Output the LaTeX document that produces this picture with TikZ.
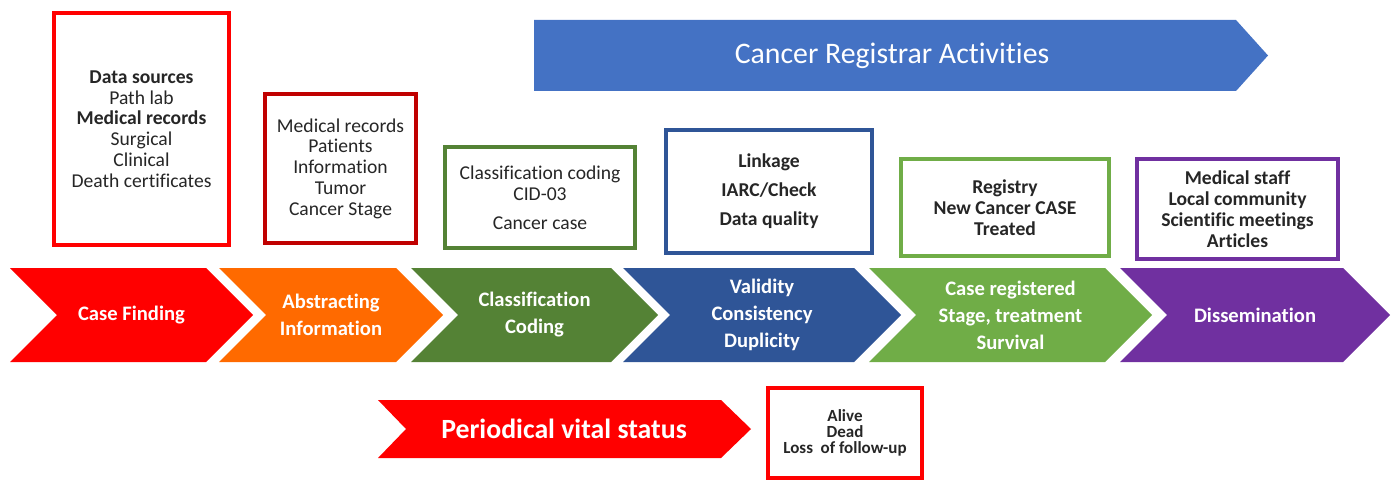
\documentclass[tikz,border=0pt]{standalone}
\usepackage{fontspec}
\setmainfont{Carlito}[Ligatures={NoCommon,NoContextual},Contextuals=NoAlternate]
\usepackage{xcolor}
\usepackage{tikz}

\definecolor{regred}{HTML}{FF0000}
\definecolor{regdarkred}{HTML}{C00000}
\definecolor{regorange}{HTML}{FF6A00}
\definecolor{reggreen}{HTML}{548235}
\definecolor{regblue}{HTML}{2F5597}
\definecolor{reglight}{HTML}{70AD47}
\definecolor{regpurple}{HTML}{7030A0}
\definecolor{regbanner}{HTML}{4472C4}

\begin{document}
\begin{tikzpicture}[x=0.5pt,y=-0.5pt,
		infobox/.style={draw,line width=2pt,fill=white,align=center,inner sep=0pt,
			text=black!85,font=\fontsize{9.8}{10.4}\selectfont},
		boldbox/.style={infobox,font=\bfseries\fontsize{9.8}{10.4}\selectfont},
		chevtext/.style={text=white,align=center,font=\bfseries\fontsize{10.3}{13.5}\selectfont}]
	\useasboundingbox (0,0) rectangle (1395,481);
	% top banner
	\fill[regbanner] (534,20) -- (1236,20) -- (1268,55.5) -- (1236,91) -- (534,91) -- cycle;
	\node[text=white,font=\fontsize{14.9}{18}\selectfont] (activ) at (892,55.5) {Cancer Registrar Activities};
	% boxes above the steps
	\node[infobox,draw=regred,minimum width=87.5pt,minimum height=116pt] (sources) at (141.5,129)
		{\textbf{Data sources}\\Path lab\\\textbf{Medical records}\\Surgical\\Clinical\\Death certificates};
	\node[infobox,draw=regdarkred,minimum width=75.5pt,minimum height=74.5pt] (abstrbox) at (340.5,168.5)
		{Medical records\\Patients\\Information\\Tumor\\Cancer Stage};
	\node[infobox,draw=reggreen,minimum width=95pt,minimum height=50.5pt] (classbox) at (540,197.5)
		{Classification coding\\CID-03\\[4pt]Cancer case};
	\node[boldbox,draw=regblue,minimum width=103pt,minimum height=61.5pt,
		font=\bfseries\fontsize{9.8}{14.5}\selectfont] (validbox) at (769,191.5)
		{Linkage\\IARC/Check\\Data quality};
	\node[boldbox,draw=reglight,minimum width=104pt,minimum height=48.5pt] (registbox) at (1005,207.5)
		{Registry\\New Cancer CASE\\Treated};
	\node[boldbox,draw=regpurple,minimum width=100.5pt,minimum height=50pt] (dissembox) at (1237.5,209)
		{Medical staff\\Local community\\Scientific meetings\\Articles};
	% the steps
	\foreach \xl/\xr/\col/\nm/\txt in {10/253/regred/find/{Case Finding},
		219/443/regorange/abstr/{Abstracting\\Information},
		411/658/reggreen/class/{Classification\\Coding},
		623/901/regblue/valid/{Validity\\Consistency\\Duplicity},
		869/1152/reglight/regist/{Case registered\\Stage, treatment\\Survival},
		1120/1390/regpurple/dissem/{Dissemination}}
	{\fill[\col] (\xl,268) -- (\xr-47,268) -- (\xr,315) -- (\xr-47,362) -- (\xl,362) -- (\xl+47,315) -- cycle;
		\node[chevtext] (\nm) at ({(\xl+\xr)/2},315) {\txt};}
	% follow-up
	\fill[regred] (378,400) -- (721,400) -- (751,429) -- (721,458) -- (378,458) -- (406,429) -- cycle;
	\node[text=white,font=\bfseries\fontsize{13.9}{16}\selectfont] (vital) at (564,429) {Periodical vital status};
	\node[boldbox,draw=regred,minimum width=77pt,minimum height=45pt,
		font=\bfseries\fontsize{8.5}{8}\selectfont] (status) at (845,433)
		{Alive\\Dead\\Loss~ of follow-up};
\end{tikzpicture}
\end{document}
